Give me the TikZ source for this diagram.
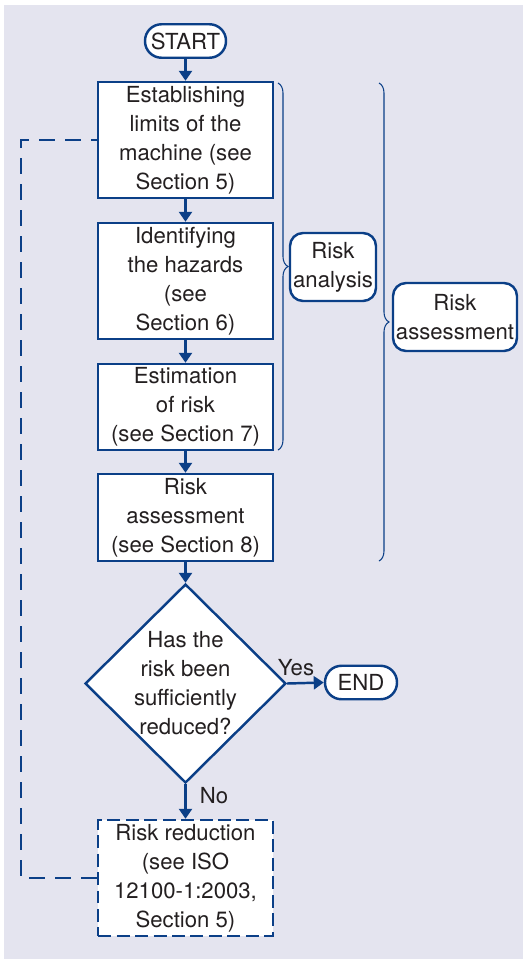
\documentclass[tikz,border=0pt]{standalone}
\usepackage{fontspec}
\setmainfont{TeX Gyre Heros}
\usetikzlibrary{arrows.meta,shapes.geometric,decorations.pathreplacing}

\definecolor{isoblue}{HTML}{0B3F87}
\definecolor{panel}{HTML}{E4E4EF}
\definecolor{ink}{HTML}{231F20}

\begin{document}
\begin{tikzpicture}[x=0.02cm,y=-0.02cm,
  every node/.style={font=\fontsize{12.6}{16.5}\selectfont,text=ink},
  stepbox/.style={draw=isoblue,line width=1.4pt,fill=white,minimum width=3.5cm,align=center,inner sep=1pt},
  dashbox/.style={stepbox,dash pattern=on 0.26cm off 0.11cm},
  terminal/.style={draw=isoblue,line width=1.4pt,fill=white,rounded corners=0.33cm,minimum height=0.67cm,inner sep=2pt},
  tag/.style={draw=isoblue,line width=1.4pt,fill=white,rounded corners=0.26cm,minimum height=1.36cm,align=center,inner sep=1pt},
  decision/.style={draw=isoblue,line width=1.4pt,fill=white,diamond,align=center,inner sep=-0.25cm,minimum width=4.02cm,minimum height=3.98cm},
  flow/.style={draw=isoblue,line width=1.4pt,-{Triangle[length=0.2cm,width=0.26cm]}},
  feedback/.style={draw=isoblue,line width=1.4pt,dash pattern=on 0.32cm off 0.2cm},
  bracket/.style={draw=isoblue,line width=0.6pt,decorate,decoration={brace,amplitude=0.2cm}}]

\fill[panel] (4,5) rectangle (523,959);
\useasboundingbox (0,0) rectangle (525,961);

% main chain
\node[terminal,minimum width=1.62cm] (start) at (185.5,41) {START};
\node[stepbox,minimum height=2.32cm] (limits) at (185.5,140) {Establishing\\limits of the\\machine (see\\Section 5)};
\node[stepbox,minimum height=2.32cm] (hazards) at (185.5,281) {Identifying\\the hazards\\(see\\Section 6)};
\node[stepbox,minimum height=1.72cm] (estimation) at (185.5,407) {Estimation\\of risk\\(see Section 7)};
\node[stepbox,minimum height=1.74cm] (evaluation) at (185.5,517.5) {Risk\\assessment\\(see Section 8)};
\node[decision] (check) at (185.5,683.5) {Has the\\risk been\\sufficiently\\reduced?};
\node[terminal,minimum width=1.44cm] (stop) at (361,682.5) {END};
\node[dashbox,minimum height=2.32cm] (reduction) at (185.5,878) {Risk reduction\\(see ISO\\12100-1:2003,\\Section 5)};

\draw[flow] (start) -- (limits);
\draw[flow] (limits) -- (hazards);
\draw[flow] (hazards) -- (estimation);
\draw[flow] (estimation) -- (evaluation);
\draw[flow] (evaluation) -- (check);
\draw[flow] (check.east) -- (stop.west);
\draw[flow] (check.south) -- (reduction.north);

\node (yes) at (296,668) {Yes};
\node (no) at (214,796) {No};

% loop back
\coordinate (back) at (21,878);
\draw[feedback] (reduction.west) -- (back) |- (limits.west);

% braces and their labels
\coordinate (a1) at (278,83);
\coordinate (a2) at (278,450);
\coordinate (b1) at (379,83);
\coordinate (b2) at (379,561);
\draw[bracket] (a1) -- (a2);
\draw[bracket] (b1) -- (b2);

\node[tag,minimum width=1.72cm] (analysis) at (333,267) {Risk\\analysis};
\node[tag,minimum width=2.48cm] (assessment) at (455,317) {Risk\\assessment};

\end{tikzpicture}
\end{document}
